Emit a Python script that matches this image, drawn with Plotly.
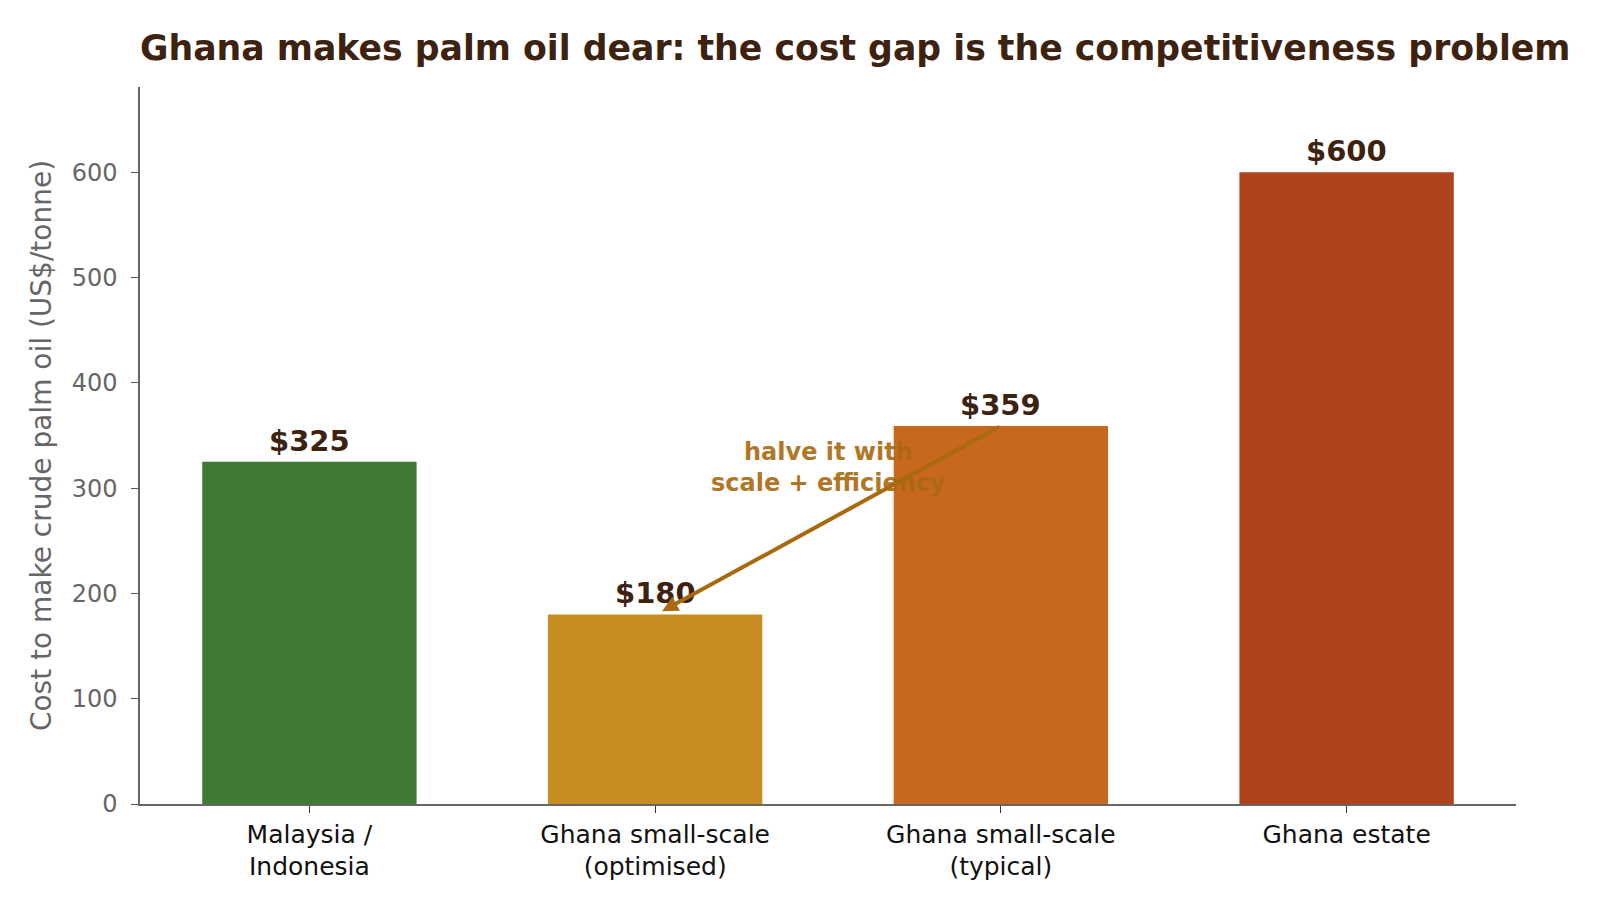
import plotly.graph_objects as go

categories = ["Malaysia /<br>Indonesia", "Ghana small-scale<br>(optimised)", "Ghana small-scale<br>(typical)", "Ghana estate"]
costs = [325, 180, 359, 600]
value_labels = ["$325", "$180", "$359", "$600"]
bar_colors = ["#3f7a34", "#c78d20", "#c8681f", "#b0421c"]

title_text = "Ghana makes palm oil dear: the cost gap is the competitiveness problem"
ytitle = "Cost to make crude palm oil (US$/tonne)"
arrow_from = (2, 359)
arrow_to = (1.02, 183)
note_pos = (1.5, 320)
note_text = "halve it with<br>scale + efficiency"

dark = "#3d2210"
font = "DejaVu Sans"

x = list(range(len(categories)))
fig = go.Figure()
fig.add_trace(go.Bar(x=x, y=costs, width=0.62, marker=dict(color=bar_colors, line=dict(width=0)),
                     hoverinfo="skip", showlegend=False))

for xi, v, lab in zip(x, costs, value_labels):
    fig.add_annotation(x=xi, y=v, text=f"<b>{lab}</b>", showarrow=False, yanchor="bottom", yshift=2,
                       font=dict(family=font, size=29, color=dark))

fig.add_annotation(x=note_pos[0], y=note_pos[1], text=f"<b>{note_text}</b>", showarrow=False,
                   font=dict(family=font, size=24, color="#a8690f"), opacity=0.9)
fig.add_annotation(x=arrow_to[0], y=arrow_to[1], ax=arrow_from[0], ay=arrow_from[1],
                   xref="x", yref="y", axref="x", ayref="y", text="", showarrow=True,
                   arrowhead=2, arrowsize=0.8, arrowwidth=4, arrowcolor="#a8690f")

fig.update_layout(
    width=1600, height=908,
    margin=dict(l=140, r=84, t=87, b=104),
    plot_bgcolor="white", paper_bgcolor="white",
    font=dict(family=font),
    title=dict(text=f"<b>{title_text}</b>", x=140/1600, xanchor="left", xref="container",
               y=1-48/908, yanchor="middle", yref="container",
               font=dict(family=font, size=34.7, color=dark)),
    xaxis=dict(range=[-0.49, 3.49], tickvals=x, ticktext=categories, showgrid=False,
               showline=True, linecolor="#666666", linewidth=1.5, ticks="outside", ticklen=7,
               tickcolor="#333333", tickfont=dict(family=font, size=25, color="#111111"), zeroline=False),
    yaxis=dict(range=[0, 681], tickvals=[0, 100, 200, 300, 400, 500, 600], showgrid=False,
               showline=True, linecolor="#666666", linewidth=1.5, ticks="outside", ticklen=7,
               ticklabelstandoff=9,
               tickcolor="#555555", tickfont=dict(family=font, size=24, color="#666666"), zeroline=False,
               title=dict(text=ytitle, font=dict(family=font, size=28, color="#666666"), standoff=12)),
)

fig.write_html("out.html")
